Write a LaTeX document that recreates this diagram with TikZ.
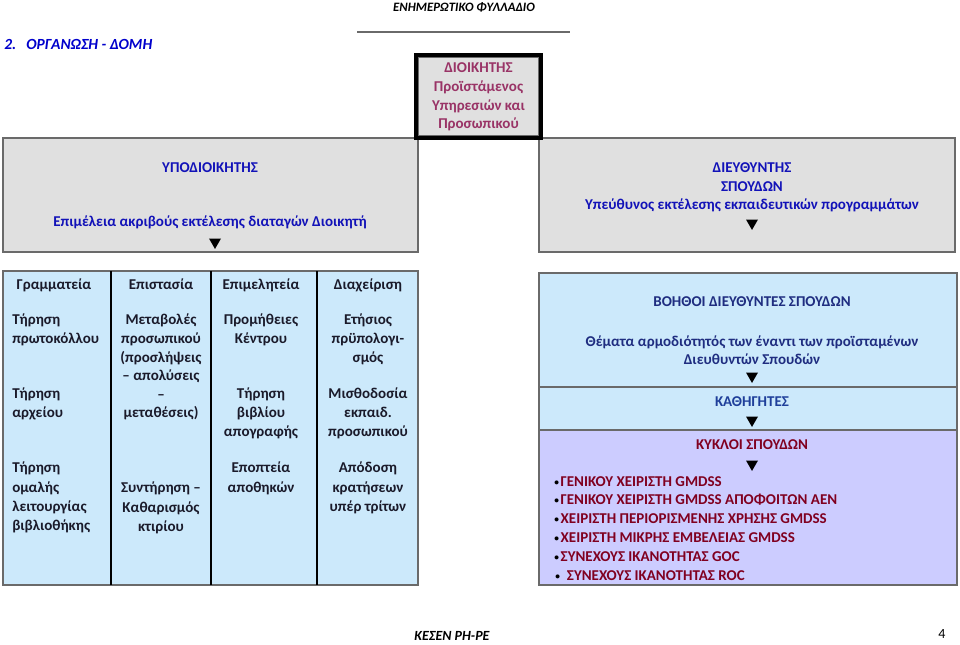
\documentclass[tikz,border=0pt]{standalone}
\usepackage{fontspec}
\setmainfont{Carlito}
\usetikzlibrary{shapes.geometric,fit}
\definecolor{lblue}{HTML}{CCE9FB}
\definecolor{lgray}{HTML}{E0E0E0}
\definecolor{lav}{HTML}{CCCCFF}
\definecolor{bordgray}{HTML}{6A6A6A}
\definecolor{dirtext}{HTML}{993366}
\definecolor{subblue}{HTML}{1212B8}
\definecolor{navy}{HTML}{1F2D80}
\definecolor{kathblue}{HTML}{1F3F9A}
\definecolor{tbltext}{HTML}{1A1A2A}
\definecolor{dred}{HTML}{800020}
\definecolor{headblue}{HTML}{0000CC}
\newcommand{\smallbul}{\textcolor{black}{\raisebox{0.12em}{\fontsize{7}{7}\selectfont •}}\hspace{0.12em}}
\tikzset{
  panel/.style={draw=bordgray, line width=1.6pt, inner sep=0pt},
  txt/.style={inner sep=0pt, align=center, font=\bfseries\fontsize{11.25}{13.9}\selectfont},
  tbl/.style={txt, text=tbltext},
  tri/.style={regular polygon, regular polygon sides=3, shape border rotate=180, fill=black, inner sep=0pt, minimum size=10.4pt},
  bul/.style={inner sep=0pt, anchor=west, font=\bfseries\fontsize{11.25}{13.9}\selectfont, text=dred},
  divider/.style={draw=black, line width=1.6pt}
}
\begin{document}
\begin{tikzpicture}[x=0.75pt,y=-0.75pt]
\useasboundingbox (0,0) rectangle (960,644);
\fill[white] (0,0) rectangle (960,644);

% header
\node[inner sep=0pt, font=\bfseries\itshape\fontsize{9.6}{12}\selectfont] (hdr) at (464,7) {ΕΝΗΜΕΡΩΤΙΚΟ ΦΥΛΛΑΔΙΟ};
\coordinate (hl1) at (357,32);
\coordinate (hl2) at (570,32);
\draw[bordgray, line width=1.3pt] (hl1) -- (hl2);
\node[inner sep=0pt, anchor=base west, text=headblue, font=\bfseries\itshape\fontsize{11.6}{14}\selectfont] (num) at (4,49) {2.};
\node[inner sep=0pt, anchor=base west, text=headblue, font=\bfseries\itshape\fontsize{11.6}{14}\selectfont] (title) at (26,49) {ΟΡΓΑΝΩΣΗ - ΔΟΜΗ};

% left and right grey panels
\node[panel, fill=lgray, fit={(3,138) (418,252)}] (sub) {};
\node[panel, fill=lgray, fit={(539,138) (955,252)}] (dir) {};
\node[txt, text=subblue] (subt) at (210,168) {ΥΠΟΔΙΟΙΚΗΤΗΣ};
\node[txt, text=subblue] (subd) at (210,222) {Επιμέλεια ακριβούς εκτέλεσης διαταγών Διοικητή};
\node[tri] (tsub) at (215,242) {};
\node[txt, text=subblue] (dirt) at (752,187.5) {ΔΙΕΥΘΥΝΤΗΣ\\ΣΠΟΥΔΩΝ\\Υπεύθυνος εκτέλεσης εκπαιδευτικών προγραμμάτων};
\node[tri] (tdir) at (752,223) {};

% director box
\node[draw=black, line width=3pt, fill=lgray, inner sep=0pt, fit={(416,55) (541,138)}] (boss) {};
\draw[bordgray, line width=0.8pt] ([xshift=3.2pt,yshift=-3.2pt]boss.north west) rectangle ([xshift=-3.2pt,yshift=3.2pt]boss.south east);
\node[txt, text=dirtext] (bosst) at (478.5,97) {ΔΙΟΙΚΗΤΗΣ\\Προϊστάμενος\\Υπηρεσιών και\\Προσωπικού};

% table of services
\node[panel, fill=lblue, fit={(3,271) (418,585)}] (table) {};
\coordinate (d1t) at (111,271); \coordinate (d1b) at (111,585);
\coordinate (d2t) at (211,271); \coordinate (d2b) at (211,585);
\coordinate (d3t) at (317,271); \coordinate (d3b) at (317,585);
\draw[divider] (d1t) -- (d1b);
\draw[divider] (d2t) -- (d2b);
\draw[divider] (d3t) -- (d3b);

\node[tbl, anchor=base] (h1) at (54,289) {Γραμματεία};
\node[tbl, anchor=base] (h2) at (161,289) {Επιστασία};
\node[tbl, anchor=base] (h3) at (261,289) {Επιμελητεία};
\node[tbl, anchor=base] (h4) at (368,289) {Διαχείριση};

\node[tbl, anchor=north west, align=left] (c1a) at (12,314) {Τήρηση\\πρωτοκόλλου};
\node[tbl, anchor=north west, align=left] (c1b) at (12,388) {Τήρηση\\αρχείου};
\node[tbl, anchor=north west, align=left, font=\bfseries\fontsize{11.25}{14.4}\selectfont] (c1c) at (12,462) {Τήρηση\\ομαλής\\λειτουργίας\\βιβλιοθήκης};

\node[tbl, anchor=north] (c2a) at (161,314) {Μεταβολές\\προσωπικού\\(προσλήψεις\\– απολύσεις\\–\\μεταθέσεις)};
\node[tbl, anchor=north, font=\bfseries\fontsize{11.25}{14.4}\selectfont] (c2c) at (161,482) {Συντήρηση –\\Καθαρισμός\\κτιρίου};

\node[tbl, anchor=north] (c3a) at (261,314) {Προμήθειες\\Κέντρου};
\node[tbl, anchor=north] (c3b) at (261,388) {Τήρηση\\βιβλίου\\απογραφής};
\node[tbl, anchor=north, font=\bfseries\fontsize{11.25}{14.4}\selectfont] (c3c) at (261,462) {Εποπτεία\\αποθηκών};

\node[tbl, anchor=north] (c4a) at (368,314) {Ετήσιος\\πρϋπολογι-\\σμός};
\node[tbl, anchor=north] (c4b) at (368,388) {Μισθοδοσία\\εκπαιδ.\\προσωπικού};
\node[tbl, anchor=north, font=\bfseries\fontsize{11.25}{14.4}\selectfont] (c4c) at (368,462) {Απόδοση\\κρατήσεων\\υπέρ τρίτων};

% right column
\node[panel, fill=lblue, fit={(539,273) (957,387)}] (boh) {};
\node[panel, fill=lblue, fit={(539,387) (957,430)}] (kath) {};
\node[panel, fill=lav, fit={(539,430) (957,585)}] (kyk) {};

\node[txt, text=navy] (boht) at (752,302) {ΒΟΗΘΟΙ ΔΙΕΥΘΥΝΤΕΣ ΣΠΟΥΔΩΝ};
\node[txt, text=navy] (bohd) at (752,350) {Θέματα αρμοδιότητός των έναντι των προϊσταμένων\\Διευθυντών Σπουδών};
\node[tri] (tboh) at (752,376) {};
\node[txt, text=kathblue] (katht) at (752,402) {ΚΑΘΗΓΗΤΕΣ};
\node[tri] (tkath) at (752,420) {};
\node[txt, text=dred] (kykt) at (752,445) {ΚΥΚΛΟΙ ΣΠΟΥΔΩΝ};
\node[tri] (tkyk) at (752,464) {};

\node[bul] (b1) at (554,482) {\smallbul ΓΕΝΙΚΟΥ ΧΕΙΡΙΣΤΗ GMDSS};
\node[bul] (b2) at (554,500) {\smallbul ΓΕΝΙΚΟΥ ΧΕΙΡΙΣΤΗ GMDSS ΑΠΟΦΟΙΤΩΝ ΑΕΝ};
\node[bul] (b3) at (554,519) {\smallbul ΧΕΙΡΙΣΤΗ ΠΕΡΙΟΡΙΣΜΕΝΗΣ ΧΡΗΣΗΣ GMDSS};
\node[bul] (b4) at (554,538) {\smallbul ΧΕΙΡΙΣΤΗ ΜΙΚΡΗΣ ΕΜΒΕΛΕΙΑΣ GMDSS};
\node[bul] (b5) at (554,557) {\smallbul ΣΥΝΕΧΟΥΣ ΙΚΑΝΌΤΗΤΑΣ GOC};
\node[bul] (b6) at (555,576) {\smallbul\hspace{0.35em}ΣΥΝΕΧΟΥΣ ΙΚΑΝΟΤΗΤΑΣ ROC};

% footer
\node[inner sep=0pt, font=\bfseries\itshape\fontsize{10.5}{12}\selectfont] (foot) at (452,636) {ΚΕΣΕΝ ΡΗ-ΡΕ};
\node[inner sep=0pt, font=\fontsize{10.5}{12}\selectfont] (page) at (942,634) {4};
\end{tikzpicture}
\end{document}
